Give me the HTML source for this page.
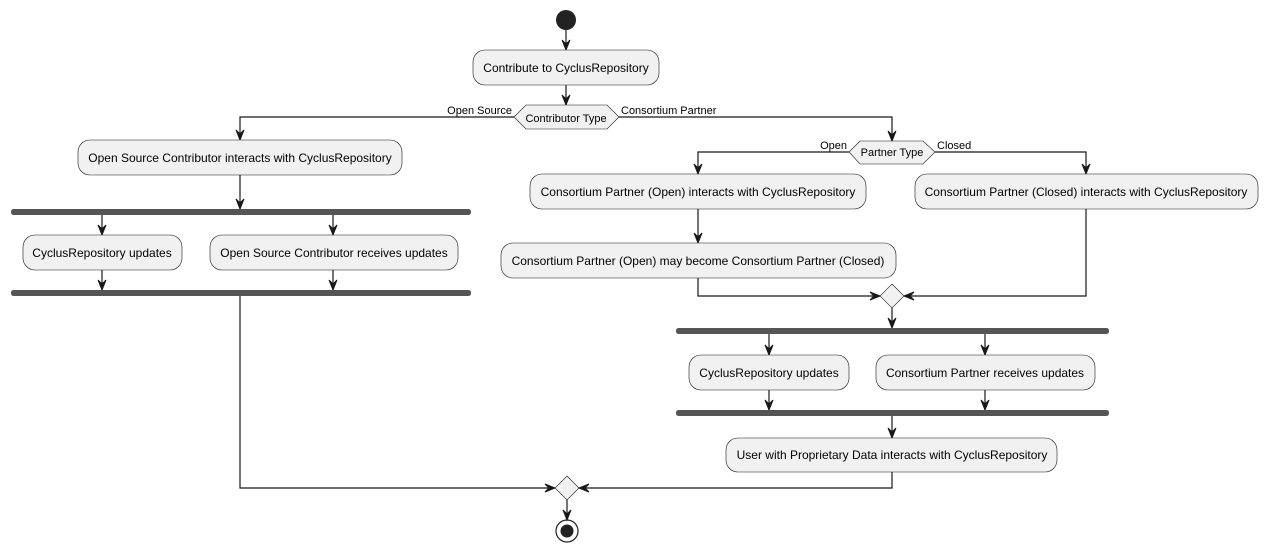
<!DOCTYPE html>
<html><head><meta charset="utf-8"><style>
html,body{margin:0;padding:0;background:#fff}
svg{display:block}
text{font-family:"Liberation Sans",Arial,sans-serif;fill:#000}
.b{fill:#f1f1f1;stroke:#181818;stroke-width:0.6}
.l{fill:none;stroke:#181818;stroke-width:1.2}
.a{fill:#181818;stroke:#181818;stroke-width:1}
.bar{fill:#555555}
</style></head><body>
<svg width="1267" height="552" viewBox="0 0 1267 552" xmlns="http://www.w3.org/2000/svg">
<defs>
<g id="ad"><polygon class="a" points="-4,-10 0,0 4,-10 0,-6"/></g>
<g id="ar"><polygon class="a" points="-10,-4 0,0 -10,4 -6,0"/></g>
<g id="al"><polygon class="a" points="10,-4 0,0 10,4 6,0"/></g>
</defs>

<!-- start -->
<circle cx="566" cy="20" r="10" fill="#222"/>
<line class="l" x1="566" y1="30" x2="566" y2="50"/><use href="#ad" x="566" y="50"/>
<rect class="b" x="473" y="50" width="186" height="35" rx="12"/>
<text x="566" y="72" font-size="12" text-anchor="middle">Contribute to CyclusRepository</text>
<line class="l" x1="566" y1="85" x2="566" y2="105"/><use href="#ad" x="566" y="105"/>
<polygon class="b" points="514,117 526,105 607,105 619,117 607,129 526,129"/>
<text x="566" y="122" font-size="11" text-anchor="middle">Contributor Type</text>
<text x="512" y="114" font-size="11" text-anchor="end">Open Source</text>
<text x="621" y="114" font-size="11">Consortium Partner</text>

<!-- left branch -->
<polyline class="l" points="514,117 240,117 240,140"/><use href="#ad" x="240" y="140"/>
<rect class="b" x="78" y="140" width="324" height="35" rx="12"/>
<text x="240" y="162" font-size="12" text-anchor="middle">Open Source Contributor interacts with CyclusRepository</text>
<line class="l" x1="240" y1="175" x2="240" y2="209"/><use href="#ad" x="240" y="209"/>
<rect class="bar" x="11" y="209" width="460" height="6" rx="2.5"/>
<line class="l" x1="102" y1="215" x2="102" y2="235"/><use href="#ad" x="102" y="235"/>
<line class="l" x1="333" y1="215" x2="333" y2="235"/><use href="#ad" x="333" y="235"/>
<rect class="b" x="23" y="235" width="159" height="35" rx="12"/>
<text x="102" y="257" font-size="12" text-anchor="middle">CyclusRepository updates</text>
<rect class="b" x="210" y="235" width="248" height="35" rx="12"/>
<text x="334" y="257" font-size="12" text-anchor="middle">Open Source Contributor receives updates</text>
<line class="l" x1="102" y1="270" x2="102" y2="290"/><use href="#ad" x="102" y="290"/>
<line class="l" x1="333" y1="270" x2="333" y2="290"/><use href="#ad" x="333" y="290"/>
<rect class="bar" x="11" y="290" width="460" height="6" rx="2.5"/>
<polyline class="l" points="240,296 240,488 555,488"/><use href="#ar" x="555" y="488"/>

<!-- right branch -->
<polyline class="l" points="619,117 892,117 892,141"/><use href="#ad" x="892" y="141"/>
<polygon class="b" points="849,152 860,141 923,141 935,152 923,164 860,164"/>
<text x="892" y="156" font-size="11" text-anchor="middle">Partner Type</text>
<text x="847" y="149" font-size="11" text-anchor="end">Open</text>
<text x="937" y="149" font-size="11">Closed</text>
<polyline class="l" points="849,152 698,152 698,174"/><use href="#ad" x="698" y="174"/>
<polyline class="l" points="935,152 1086,152 1086,174"/><use href="#ad" x="1086" y="174"/>
<rect class="b" x="530" y="174" width="336" height="35" rx="12"/>
<text x="698" y="196" font-size="12" text-anchor="middle">Consortium Partner (Open) interacts with CyclusRepository</text>
<rect class="b" x="915" y="174" width="343" height="35" rx="12"/>
<text x="1086" y="196" font-size="12" text-anchor="middle">Consortium Partner (Closed) interacts with CyclusRepository</text>
<line class="l" x1="698" y1="209" x2="698" y2="243"/><use href="#ad" x="698" y="243"/>
<rect class="b" x="501" y="243" width="395" height="35" rx="12"/>
<text x="698" y="265" font-size="12" text-anchor="middle">Consortium Partner (Open) may become Consortium Partner (Closed)</text>
<polyline class="l" points="698,278 698,296 880,296"/><use href="#ar" x="880" y="296"/>
<polyline class="l" points="1086,209 1086,296 904,296"/><use href="#al" x="904" y="296"/>
<polygon class="b" points="892,284 904,296 892,308 880,296"/>
<line class="l" x1="892" y1="308" x2="892" y2="328"/><use href="#ad" x="892" y="328"/>
<rect class="bar" x="676" y="328" width="433" height="6" rx="2.5"/>
<line class="l" x1="769" y1="334" x2="769" y2="355"/><use href="#ad" x="769" y="355"/>
<line class="l" x1="985" y1="334" x2="985" y2="355"/><use href="#ad" x="985" y="355"/>
<rect class="b" x="689" y="355" width="160" height="35" rx="12"/>
<text x="769" y="377" font-size="12" text-anchor="middle">CyclusRepository updates</text>
<rect class="b" x="876" y="355" width="219" height="35" rx="12"/>
<text x="985" y="377" font-size="12" text-anchor="middle">Consortium Partner receives updates</text>
<line class="l" x1="769" y1="390" x2="769" y2="410"/><use href="#ad" x="769" y="410"/>
<line class="l" x1="985" y1="390" x2="985" y2="410"/><use href="#ad" x="985" y="410"/>
<rect class="bar" x="676" y="410" width="433" height="6" rx="2.5"/>
<line class="l" x1="892" y1="416" x2="892" y2="438"/><use href="#ad" x="892" y="438"/>
<rect class="b" x="726" y="438" width="331" height="34" rx="12"/>
<text x="892" y="459" font-size="12" text-anchor="middle">User with Proprietary Data interacts with CyclusRepository</text>
<polyline class="l" points="892,472 892,488 579,488"/><use href="#al" x="579" y="488"/>

<!-- final merge -->
<polygon class="b" points="567,476 579,488 567,500 555,488"/>
<line class="l" x1="567" y1="500" x2="567" y2="520"/><use href="#ad" x="567" y="520"/>
<circle cx="567" cy="531" r="11" fill="none" stroke="#222" stroke-width="1.2"/>
<circle cx="567" cy="531" r="6.5" fill="#222"/>
</svg>
</body></html>
